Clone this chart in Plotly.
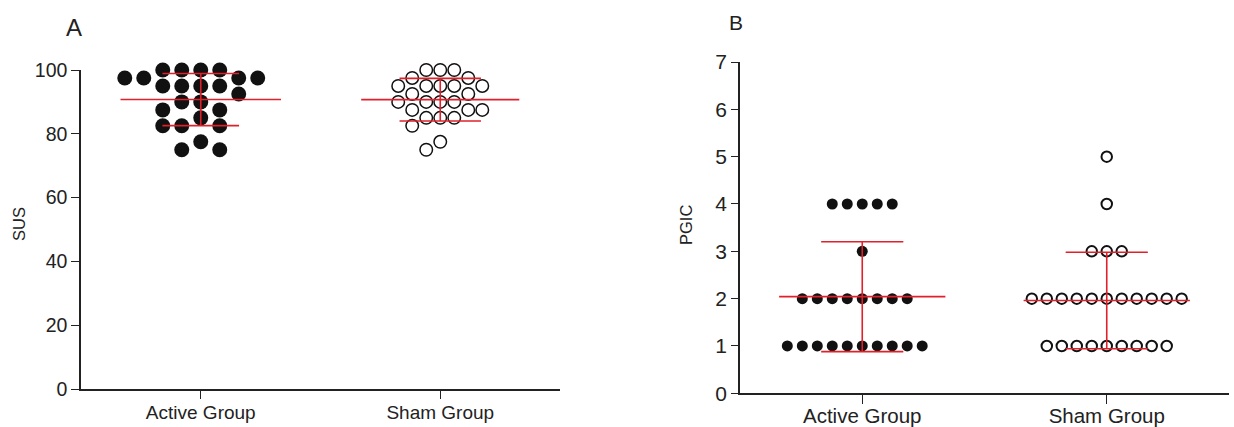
import numpy as np
import plotly.graph_objects as go

# ---------------- data ----------------
groups = ["Active Group", "Sham Group"]

sus_active = [100, 100, 100, 100, 97.5, 97.5, 97.5, 97.5, 95, 95, 95, 95, 92.5,
              90, 90, 87.5, 87.5, 85, 82.5, 82.5, 82.5, 77.5, 75, 75]
sus_sham = [100, 100, 100, 97.5, 97.5, 95, 95, 95, 95, 95, 92.5, 92.5,
            90, 90, 90, 90, 87.5, 87.5, 87.5, 85, 85, 85, 82.5, 77.5, 75]

pgic_active = [4, 4, 4, 4, 4, 3, 2, 2, 2, 2, 2, 2, 2, 2,
               1, 1, 1, 1, 1, 1, 1, 1, 1, 1]
pgic_sham = [5, 4, 3, 3, 3, 2, 2, 2, 2, 2, 2, 2, 2, 2, 2, 2,
             1, 1, 1, 1, 1, 1, 1, 1, 1]

sus_ticks = [0, 20, 40, 60, 80, 100]
pgic_ticks = [0, 1, 2, 3, 4, 5, 6, 7]

# ---------------- styling ----------------
FONT = "Liberation Sans, Arial, sans-serif"
INK = "#222222"
RED = "#e0202a"


def swarm_slots(values, min_gap):
    """Greedy column-slot layout: each point goes into the slot closest to the
    centre where no point with a value closer than min_gap already sits."""
    order = sorted(range(len(values)), key=lambda i: -values[i])
    cands = [0]
    for k in range(1, 40):
        cands += [-k, k]
    placed = {}
    slots = [0] * len(values)
    for i in order:
        v = values[i]
        for s in cands:
            if all(abs(v - u) >= min_gap for u in placed.get(s, [])):
                placed.setdefault(s, []).append(v)
                slots[i] = s
                break
    return np.array(slots)


def dots(values, centre, spacing, min_gap, marker, xa, ya):
    x = centre + swarm_slots(values, min_gap) * spacing
    return go.Scatter(x=x, y=values, mode="markers", marker=marker,
                      xaxis=xa, yaxis=ya, cliponaxis=False, hoverinfo="y")


def mean_sd(values, centre, half_mean, half_cap, xa, ya):
    v = np.asarray(values, dtype=float)
    m = v.mean()
    sd = v.std(ddof=1)
    xs = [centre - half_mean, centre + half_mean, None,
          centre - half_cap, centre + half_cap, None,
          centre - half_cap, centre + half_cap, None,
          centre, centre]
    ys = [m, m, None, m + sd, m + sd, None, m - sd, m - sd, None, m - sd, m + sd]
    return go.Scatter(x=xs, y=ys, mode="lines", line=dict(color=RED, width=1.6),
                      xaxis=xa, yaxis=ya, cliponaxis=False, hoverinfo="skip")


fig = go.Figure()

# Panel A
fig.add_trace(dots(sus_active, 1, 0.0793, 4.0,
                   dict(symbol="circle", size=15, color="#111111", line=dict(width=0)),
                   "x", "y"))
fig.add_trace(dots(sus_sham, 2, 0.0585, 4.0,
                   dict(symbol="circle-open", size=12.5, color="#111111", line=dict(width=1.5)),
                   "x", "y"))
fig.add_trace(mean_sd(sus_active, 1, 0.335, 0.16, "x", "y"))
fig.add_trace(mean_sd(sus_sham, 2, 0.33, 0.17, "x", "y"))

# Panel B
fig.add_trace(dots(pgic_active, 1, 0.0613, 0.5,
                   dict(symbol="circle", size=11, color="#111111", line=dict(width=0)),
                   "x2", "y2"))
fig.add_trace(dots(pgic_sham, 2, 0.0613, 0.5,
                   dict(symbol="circle-open", size=10.5, color="#111111", line=dict(width=2)),
                   "x2", "y2"))
fig.add_trace(mean_sd(pgic_active, 1, 0.34, 0.168, "x2", "y2"))
fig.add_trace(mean_sd(pgic_sham, 2, 0.34, 0.168, "x2", "y2"))

axis_common = dict(showline=True, linecolor=INK, linewidth=1.5, ticks="outside",
                   tickcolor=INK, tickwidth=1.3, showgrid=False, zeroline=False,
                   fixedrange=True, automargin=False)

fig.update_layout(
    template="none",
    width=1234, height=427,
    autosize=False,
    margin=dict(l=0, r=0, t=0, b=0, pad=0),
    paper_bgcolor="white", plot_bgcolor="white",
    showlegend=False,
    font=dict(family=FONT, color=INK),
    xaxis=dict(domain=[81 / 1234, 560 / 1234], range=[0.5, 2.5],
               tickvals=[1, 2], ticktext=groups, ticklen=8, ticklabelstandoff=-3,
               tickfont=dict(size=19, color=INK), anchor="y", **axis_common),
    yaxis=dict(domain=[(427 - 389) / 427, (427 - 70) / 427], range=[0, 100],
               tickvals=sus_ticks, ticklen=8,
               tickfont=dict(size=19.5, color=INK), anchor="x", **axis_common),
    xaxis2=dict(domain=[740 / 1234, 1229 / 1234], range=[0.5, 2.5],
                tickvals=[1, 2], ticktext=groups, ticklen=9, ticklabelstandoff=-6,
                tickfont=dict(size=20.5, color=INK), anchor="y2", **axis_common),
    yaxis2=dict(domain=[(427 - 393.3) / 427, (427 - 62) / 427], range=[0, 7],
                tickvals=pgic_ticks, ticklen=7,
                tickfont=dict(size=21, color=INK), anchor="x2", **axis_common),
    annotations=[
        dict(text="A", x=73.5 / 1234, y=1 - 27.5 / 427, xref="paper", yref="paper",
             showarrow=False, font=dict(size=24, color=INK), xanchor="center", yanchor="middle"),
        dict(text="B", x=735.5 / 1234, y=1 - 22.5 / 427, xref="paper", yref="paper",
             showarrow=False, font=dict(size=21, color=INK), xanchor="center", yanchor="middle"),
        dict(text="SUS", x=19 / 1234, y=1 - 224 / 427, xref="paper", yref="paper",
             showarrow=False, textangle=-90, font=dict(size=16.5, color=INK),
             xanchor="center", yanchor="middle"),
        dict(text="PGIC", x=686 / 1234, y=1 - 225 / 427, xref="paper", yref="paper",
             showarrow=False, textangle=-90, font=dict(size=16.5, color=INK),
             xanchor="center", yanchor="middle"),
    ],
)

fig.write_html("out.html",
               config={"displayModeBar": False},
               post_script="document.body.style.margin='0';"
                           "document.body.style.overflow='hidden';")
